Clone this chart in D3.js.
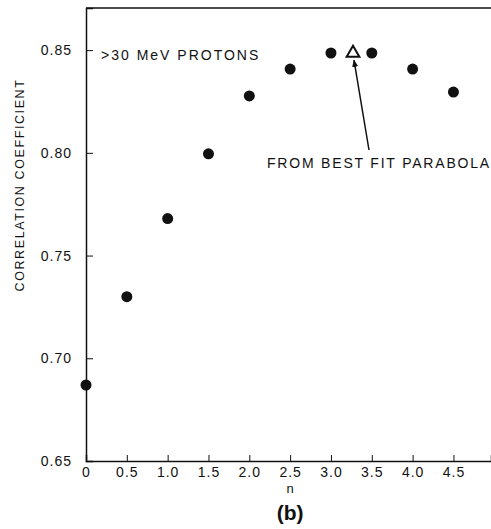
<!DOCTYPE html>
<html>
<head>
<meta charset="utf-8">
<script src="https://cdn.jsdelivr.net/npm/d3@7"></script>
<style>
  body { margin: 0; background: #fff; }
  text { font-family: "Liberation Sans", Arial, sans-serif; fill: #111; }
</style>
</head>
<body>
<div id="container"></div>
<script>
const w = 491;
const h = 529;

// data
const nValues = [0, 0.5, 1.0, 1.5, 2.0, 2.5, 3.0, 3.5, 4.0, 4.5];
const corr = [0.687, 0.730, 0.768, 0.7995, 0.8277, 0.8408, 0.8486, 0.8486, 0.8408, 0.8296];
const bestFit = [3.27, 0.849];
const xTicks = [0, 0.5, 1.0, 1.5, 2.0, 2.5, 3.0, 3.5, 4.0, 4.5];
const yTicks = [0.65, 0.70, 0.75, 0.80, 0.85];

const padLeft = 86, padRight = 491, padTop = 8, padBottom = 461;

const svg = d3.select("#container")
  .append("svg")
  .attr("width", w)
  .attr("height", h);

const xScale = d3.scaleLinear().domain([0, 4.96]).range([padLeft, padRight]);
const yScale = d3.scaleLinear().domain([0.65, 0.8705]).range([padBottom, padTop]);

// frame: top line
svg.append("line")
  .attr("x1", padLeft).attr("x2", padRight)
  .attr("y1", padTop).attr("y2", padTop)
  .attr("stroke", "#111").attr("stroke-width", 1.5);

const xAxis = d3.axisBottom(xScale)
  .tickValues(xTicks)
  .tickSize(-6)
  .tickPadding(6)
  .tickFormat(d3.format(".1f"));

const gx = svg.append("g")
  .attr("transform", "translate(0," + padBottom + ")")
  .call(xAxis);
gx.select(".domain").attr("stroke", "#111").attr("stroke-width", 1.5);
gx.selectAll(".tick line").attr("stroke", "#111");
gx.selectAll(".tick text")
  .text((d) => d === 0 ? "0" : d3.format(".1f")(d))
  .style("font-size", "14px")
  .style("letter-spacing", "1px");

const yAxis = d3.axisLeft(yScale)
  .tickValues(yTicks)
  .tickSize(-7)
  .tickPadding(14)
  .tickFormat(d3.format(".2f"));

const gy = svg.append("g")
  .attr("transform", "translate(" + padLeft + ",0)")
  .call(yAxis);
gy.select(".domain").attr("stroke", "#111").attr("stroke-width", 1.5);
gy.selectAll(".tick line").attr("stroke", "#111");
gy.selectAll(".tick text")
  .style("font-size", "14px")
  .style("letter-spacing", "1px");

// axis titles
svg.append("text")
  .attr("transform", "translate(24,185) rotate(-90)")
  .attr("text-anchor", "middle")
  .style("font-size", "12.5px")
  .style("letter-spacing", "1.6px")
  .text("CORRELATION COEFFICIENT");

svg.append("text")
  .attr("x", xScale(2.5))
  .attr("y", 493)
  .attr("text-anchor", "middle")
  .style("font-size", "13px")
  .text("n");

svg.append("text")
  .attr("x", xScale(2.5))
  .attr("y", 520)
  .attr("text-anchor", "middle")
  .style("font-size", "21px")
  .style("font-weight", "bold")
  .text("(b)");

// data points
svg.selectAll("circle.pt")
  .data(nValues)
  .enter()
  .append("circle")
  .attr("class", "pt")
  .attr("cx", (d) => xScale(d))
  .attr("cy", (d, i) => yScale(corr[i]))
  .attr("r", 5.5)
  .attr("fill", "#111");

// best fit triangle
const tx = xScale(bestFit[0]), ty = yScale(bestFit[1]);
svg.append("path")
  .attr("d", d3.symbol().type(d3.symbolTriangle).size(70)())
  .attr("transform", "translate(" + tx + "," + (ty + 1) + ")")
  .attr("fill", "#fff")
  .attr("stroke", "#111")
  .attr("stroke-width", 2);

// arrow
svg.append("defs").append("marker")
  .attr("id", "head")
  .attr("viewBox", "0 0 10 10")
  .attr("refX", 9).attr("refY", 5)
  .attr("markerWidth", 5).attr("markerHeight", 5)
  .attr("orient", "auto")
  .append("path")
  .attr("d", "M0,1 L10,5 L0,9 z")
  .attr("fill", "#111");

svg.append("line")
  .attr("x1", 369).attr("y1", 150)
  .attr("x2", tx + 1).attr("y2", ty + 8)
  .attr("stroke", "#111")
  .attr("stroke-width", 1.5)
  .attr("marker-end", "url(#head)");

// annotations
svg.append("text")
  .attr("x", 101)
  .attr("y", 60)
  .style("font-size", "14px")
  .style("letter-spacing", "2px")
  .text(">30 MeV PROTONS");

svg.append("text")
  .attr("x", 267)
  .attr("y", 168)
  .style("font-size", "14px")
  .style("letter-spacing", "1.8px")
  .text("FROM BEST FIT PARABOLA");
</script>
</body>
</html>
